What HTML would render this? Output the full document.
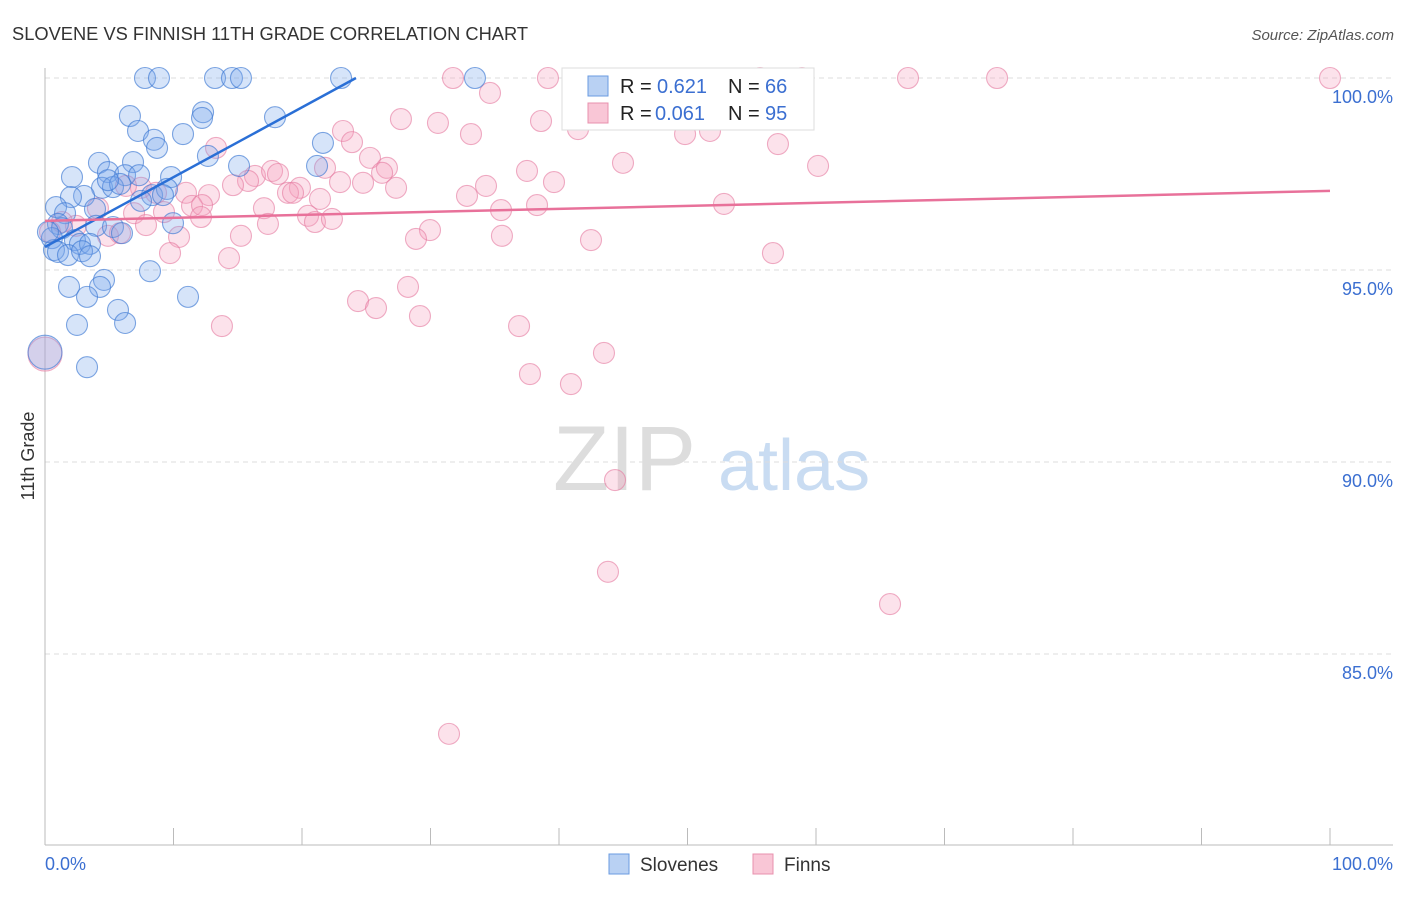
<!DOCTYPE html>
<html><head><meta charset="utf-8"><style>
body{margin:0;background:#fff;font-family:"Liberation Sans",sans-serif;}
svg text{font-family:"Liberation Sans",sans-serif;}
</style></head><body>
<svg id="c" width="1406" height="892">
<text x="12" y="40" font-size="18.3" fill="#333">SLOVENE VS FINNISH 11TH GRADE CORRELATION CHART</text>
<text x="1394" y="40" font-size="15" fill="#555" font-style="italic" text-anchor="end">Source: ZipAtlas.com</text>
<text x="34" y="456" font-size="18" fill="#333" transform="rotate(-90 34 456)" text-anchor="middle">11th Grade</text>
<g><text x="553" y="490" font-size="92" fill="#ddd" font-family="Liberation Serif">ZIP</text><text x="718" y="490" font-size="72" fill="#c9dcf2">atlas</text></g>
<g id="grid"></g><g id="pts"></g><g id="trend"></g>
<g>
<rect x="562" y="68" width="252" height="62" fill="#fff" stroke="#ddd"/>
<rect x="588" y="76" width="20" height="20" fill="#b9d1f3" stroke="#6a9be0"/>
<text x="620" y="93" font-size="20" fill="#222">R =</text><text x="657" y="93" font-size="20" fill="#3b6fd1">0.621</text>
<text x="728" y="93" font-size="20" fill="#222">N =</text><text x="765" y="93" font-size="20" fill="#3b6fd1">66</text>
<rect x="588" y="103" width="20" height="20" fill="#f9c6d6" stroke="#e890ad"/>
<text x="620" y="120" font-size="20" fill="#222">R =</text><text x="655" y="120" font-size="20" fill="#3b6fd1">0.061</text>
<text x="728" y="120" font-size="20" fill="#222">N =</text><text x="765" y="120" font-size="20" fill="#3b6fd1">95</text>
</g>
<g>
<rect x="609" y="854" width="20" height="20" fill="#b9d1f3" stroke="#6a9be0"/>
<text x="640" y="871" font-size="19" fill="#333">Slovenes</text>
<rect x="753" y="854" width="20" height="20" fill="#f9c6d6" stroke="#e890ad"/>
<text x="784" y="871" font-size="19" fill="#333">Finns</text>
</g>
</svg>
<script>
const xTicks=[0,10,20,30,40,50,60,70,80,90,100];
const yTicks=[100,95,90,85];
const yTickLabels=["100.0%","95.0%","90.0%","85.0%"];
const blueX=[7.78,8.87,13.23,14.55,15.25,23.04,33.46,6.61,12.30,12.22,17.90,7.24,8.48,8.72,10.74,21.63,12.68,4.20,6.85,15.10,21.17,2.10,4.90,6.23,7.32,9.81,4.44,5.29,5.84,3.04,2.02,8.33,9.49,0.86,3.89,1.56,7.47,1.01,1.32,3.97,5.29,5.99,9.96,0.54,2.33,2.72,3.50,0.70,1.01,1.79,2.88,3.50,8.17,4.59,1.87,4.28,3.27,11.13,5.68,6.23,2.49,3.27,0,0.23,9.18,4.90];
const blueY=[100,100,100,100,100,100,100,99.01,99.11,98.96,98.98,98.62,98.39,98.18,98.54,98.31,97.97,97.79,97.81,97.71,97.71,97.42,97.55,97.47,97.47,97.42,97.14,97.16,97.24,96.93,96.90,96.95,97.11,96.64,96.59,96.48,96.80,96.20,96.09,96.15,96.12,95.96,96.22,95.83,95.78,95.68,95.68,95.52,95.47,95.39,95.49,95.36,94.97,94.74,94.56,94.56,94.30,94.30,93.96,93.62,93.57,92.47,92.86,95.99,96.95,97.34];
const pinkX=[100,31.75,39.14,55.64,58.91,67.16,74.09,34.63,27.70,30.58,38.60,41.48,33.15,49.81,51.75,23.19,23.89,57.04,13.31,25.29,44.98,60.16,21.79,26.61,26.23,37.51,16.34,17.67,18.13,15.80,14.63,22.96,24.75,27.32,34.32,39.61,7.47,6.30,10.97,12.76,19.84,18.91,19.30,32.84,8.64,21.40,38.29,52.84,11.44,12.22,17.04,35.49,4.12,6.93,9.26,12.14,20.47,21.01,22.33,17.35,7.86,2.41,1.32,4.90,10.43,15.25,29.96,35.56,28.87,42.49,9.73,14.32,56.65,28.25,24.36,25.76,29.18,13.77,36.89,43.50,37.74,40.93,44.36,43.81,65.76,31.44,0,0.39,5.84];
const pinkY=[100,100,100,100,100,100,100,99.61,98.93,98.83,98.88,98.67,98.54,98.54,98.62,98.62,98.33,98.28,98.18,97.92,97.79,97.71,97.66,97.66,97.53,97.58,97.45,97.58,97.50,97.32,97.21,97.29,97.27,97.14,97.19,97.29,97.14,97.19,97.01,96.95,97.14,97.01,97.01,96.93,97.01,96.85,96.69,96.72,96.67,96.69,96.61,96.56,96.61,96.48,96.51,96.38,96.41,96.25,96.33,96.20,96.17,96.15,96.25,95.89,95.86,95.89,96.04,95.89,95.81,95.78,95.44,95.31,95.44,94.56,94.19,94.01,93.80,93.54,93.54,92.84,92.29,92.03,89.53,87.14,86.30,82.92,92.81,95.99,95.96];
const blueTrend=[0,95.6,24.2,100];
const pinkTrend=[0,96.28,100,97.06];
const X=v=>45+v*12.85, Y=v=>78+(100-v)*38.4;
const NS="http://www.w3.org/2000/svg";
function mk(p,t,a){const e=document.createElementNS(NS,t);for(const k in a)e.setAttribute(k,a[k]);p.appendChild(e);return e;}
const grid=document.getElementById('grid');
yTicks.forEach((v,i)=>{
 const l=mk(grid,'line',{x1:45,x2:1393,y1:Y(v),y2:Y(v),stroke:'#ddd','stroke-dasharray':'5,4'});
 
 
 const t=mk(grid,'text',{x:1393,y:Y(v)+25,'font-size':18,fill:'#3b6fd1','text-anchor':'end'});t.textContent=yTickLabels[i];
 
 
});
const ax=mk(grid,'line',{x1:45,x2:45,y1:68,y2:845,stroke:'#bbb'});


const bx=mk(grid,'line',{x1:45,x2:1393,y1:845,y2:845,stroke:'#bbb'});


xTicks.forEach(v=>{const l=mk(grid,'line',{x1:X(v),x2:X(v),y1:828,y2:845,stroke:'#bbb'});
 
 });
[[0,'0.0%','start',45],[100,'100.0%','end',1393]].forEach(d=>{const t=mk(grid,'text',{x:d[3],y:870,'font-size':18,fill:'#3b6fd1','text-anchor':d[2]});t.textContent=d[1];
 
 });
const pts=document.getElementById('pts');
function series(xs,ys,fill,stroke,name){xs.forEach((x,i)=>{const big=(x===0&&ys[i]<93.5);
 const c=mk(pts,'circle',{cx:X(x),cy:Y(ys[i]),r:big?17:10.5,fill:fill,stroke:stroke,'stroke-width':1.1});
 
 });}
series(pinkX,pinkY,'rgba(244,160,188,0.3)','rgba(228,120,158,0.6)','finns-point');
series(blueX,blueY,'rgba(120,165,235,0.3)','rgba(60,120,210,0.65)','slovenes-point');
const tr=document.getElementById('trend');
const b=mk(tr,'line',{x1:X(blueTrend[0]),y1:Y(blueTrend[1]),x2:X(blueTrend[2]),y2:Y(blueTrend[3]),stroke:'#2a6fd6','stroke-width':2.5});


const p=mk(tr,'line',{x1:X(pinkTrend[0]),y1:Y(pinkTrend[1]),x2:X(pinkTrend[2]),y2:Y(pinkTrend[3]),stroke:'#e8719a','stroke-width':2.5});


</script>
</body></html>
